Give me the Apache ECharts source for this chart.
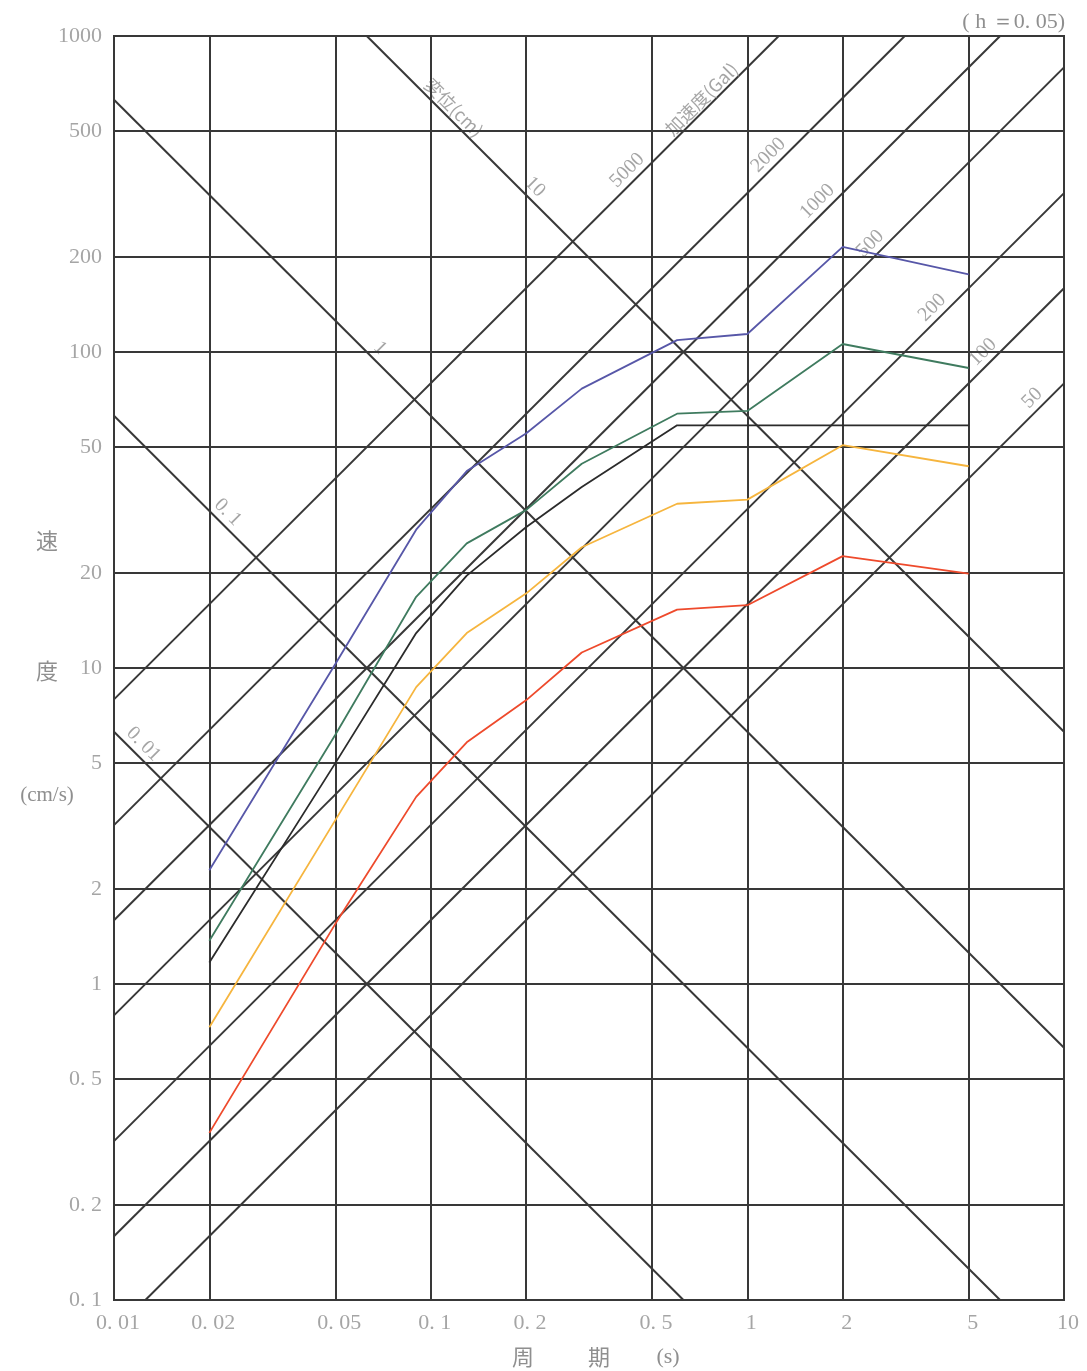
<!DOCTYPE html>
<html>
<head>
<meta charset="utf-8">
<style>
html, body { margin: 0; padding: 0; background: #fff; }
#chart { width: 1087px; height: 1371px; }
</style>
<script src="https://cdn.jsdelivr.net/npm/echarts@6/dist/echarts.min.js"></script>
</head>
<body>
<div id="chart"></div>
<script>
// periods (s) and velocity response (cm/s), h = 0.05
var periods = [0.02, 0.05, 0.09, 0.13, 0.2, 0.3, 0.6, 1, 2, 5];
var blueVel = [2.29, 10.3, 27.4, 42, 55.2, 76.6, 109, 114, 215, 176];
var greenVel = [1.37, 6.15, 16.8, 24.8, 31.6, 44.3, 63.8, 65.1, 106, 89];
var blackVel = [1.17, 5.0, 12.9, 19.6, 27.9, 37.4, 58.6, 58.6, 58.6, 58.6];
var yellowVel = [0.73, 3.3, 8.7, 12.9, 17.2, 24.1, 33.1, 34.1, 50.7, 43.5];
var redVel = [0.338, 1.55, 3.91, 5.82, 7.9, 11.2, 15.3, 15.8, 22.6, 19.9];

// axis ticks
var xTicks = [0.01, 0.02, 0.05, 0.1, 0.2, 0.5, 1, 2, 5, 10];
var xTickLabels = ['0. 01', '0. 02', '0. 05', '0. 1', '0. 2', '0. 5', '1', '2', '5', '10'];
var yTicks = [0.1, 0.2, 0.5, 1, 2, 5, 10, 20, 50, 100, 200, 500, 1000];
var yTickLabels = ['0. 1', '0. 2', '0. 5', '1', '2', '5', '10', '20', '50', '100', '200', '500', '1000'];

// tripartite lines: displacement (cm) and acceleration (Gal)
var dispValues = [0.01, 0.1, 1, 10];
var dispLabels = ['0. 01', '0. 1', '1', '10'];
var dispLabelAt = [0.01165, 0.0215, 0.065, 0.2008];
var accValues = [50, 100, 200, 500, 1000, 2000, 5000];
var accLabels = ['50', '100', '200', '500', '1000', '2000', '5000'];
var accLabelAt = [8.44, 5.9, 4.08, 2.6, 1.77, 1.24, 0.444];

var xMin = 0.01, xMax = 10, yMin = 0.1, yMax = 1000;
var TWO_PI = 2 * Math.PI;

var chartDom = document.getElementById('chart');
var myChart = echarts.init(chartDom);
var option;

function pairs(xs, ys) {
    return xs.map(function (x, i) { return [x, ys[i]]; });
}
function dispVel(d, t) { return TWO_PI * d / t; }
function accVel(a, t) { return a * t / TWO_PI; }

var lineColor = '#383838';
var textColor = '#8f8f8f';
var numFont = '"Liberation Serif", "DejaVu Serif", serif';
var cjkFont = '"Noto Sans CJK JP", sans-serif';

var series = [];

// grid lines
series.push({
    type: 'line',
    data: [[xMin, yMin]],
    symbol: 'none',
    lineStyle: { width: 0 },
    silent: true,
    z: 1,
    markLine: {
        silent: true,
        animation: false,
        symbol: ['none', 'none'],
        label: { show: false },
        lineStyle: { color: lineColor, width: 2, type: 'solid' },
        data: xTicks.slice(1, -1).map(function (v) { return { xAxis: v }; })
            .concat(yTicks.slice(1, -1).map(function (v) { return { yAxis: v }; }))
    }
});

// displacement lines: Sv = 2*pi*D/T
dispValues.forEach(function (d) {
    var k = TWO_PI * d;
    var t0 = Math.max(xMin, k / yMax), t1 = Math.min(xMax, k / yMin);
    series.push({
        type: 'line', symbol: 'none', silent: true, z: 2,
        lineStyle: { color: lineColor, width: 2 },
        data: [[t0, dispVel(d, t0)], [t1, dispVel(d, t1)]]
    });
});

// acceleration lines: Sv = A*T/(2*pi)
accValues.forEach(function (a) {
    var t0 = Math.max(xMin, yMin * TWO_PI / a), t1 = Math.min(xMax, yMax * TWO_PI / a);
    series.push({
        type: 'line', symbol: 'none', silent: true, z: 2,
        lineStyle: { color: lineColor, width: 2 },
        data: [[t0, accVel(a, t0)], [t1, accVel(a, t1)]]
    });
});

// labels on the diagonal lines
var diagLabelData = [];
dispValues.forEach(function (d, i) {
    diagLabelData.push({ name: dispLabels[i], value: [dispLabelAt[i], dispVel(d, dispLabelAt[i])],
        label: { rotate: -45, offset: [0, -12] } });
});
diagLabelData.push({ name: '変位(cm)', value: [0.112, dispVel(10, 0.112)],
    label: { rotate: -45, offset: [0, -11], fontFamily: cjkFont, fontSize: 18 } });
accValues.forEach(function (a, i) {
    diagLabelData.push({ name: accLabels[i], value: [accLabelAt[i], accVel(a, accLabelAt[i])],
        label: { rotate: 45, offset: [0, -12] } });
});
diagLabelData.push({ name: '加速度(Gal)', value: [0.754, accVel(5000, 0.754)],
    label: { rotate: 45, offset: [0, -10], fontFamily: cjkFont, fontSize: 18 } });

series.push({
    type: 'scatter', symbolSize: 0, silent: true, clip: false, z: 3,
    data: diagLabelData,
    label: { show: true, position: 'inside', formatter: '{b}', color: textColor,
        fontSize: 20, fontFamily: numFont }
});

// axis tick labels
series.push({
    type: 'scatter', symbolSize: 0, silent: true, clip: false, z: 3,
    data: xTicks.map(function (t, i) { return { name: xTickLabels[i], value: [t, yMin] }; }),
    label: { show: true, position: 'bottom', distance: 12, offset: [4, 0], formatter: '{b}', color: textColor,
        fontSize: 22, fontFamily: numFont }
});
series.push({
    type: 'scatter', symbolSize: 0, silent: true, clip: false, z: 3,
    data: yTicks.map(function (v, i) { return { name: yTickLabels[i], value: [xMin, v] }; }),
    label: { show: true, position: 'left', distance: 12, formatter: '{b}', color: textColor,
        fontSize: 22, fontFamily: numFont }
});

// response curves
var curves = [
    { values: blueVel, color: '#5757a8' },
    { values: greenVel, color: '#3f7b5f' },
    { values: blackVel, color: '#2b2b2b' },
    { values: yellowVel, color: '#f6b53e' },
    { values: redVel, color: '#ee4a2c' }
];
curves.forEach(function (c) {
    series.push({
        type: 'line', symbol: 'none', silent: true, z: 5,
        lineStyle: { color: c.color, width: 1.8 },
        data: pairs(periods, c.values)
    });
});

option = {
    animation: false,
    backgroundColor: '#fff',
    grid: {
        left: 114, top: 36, width: 950, height: 1264,
        show: true, borderColor: lineColor, borderWidth: 2, backgroundColor: 'transparent'
    },
    xAxis: {
        type: 'log', logBase: 10, min: xMin, max: xMax,
        axisLine: { show: false }, axisTick: { show: false },
        axisLabel: { show: false }, splitLine: { show: false }
    },
    yAxis: {
        type: 'log', logBase: 10, min: yMin, max: yMax,
        axisLine: { show: false }, axisTick: { show: false },
        axisLabel: { show: false }, splitLine: { show: false }
    },
    graphic: [
        { type: 'text', x: 47, y: 541, style: { text: '速', font: '22px ' + cjkFont, fill: textColor, textAlign: 'center', textVerticalAlign: 'middle' } },
        { type: 'text', x: 47, y: 671, style: { text: '度', font: '22px ' + cjkFont, fill: textColor, textAlign: 'center', textVerticalAlign: 'middle' } },
        { type: 'text', x: 47, y: 795, style: { text: '(cm/s)', font: '21px ' + numFont, fill: textColor, textAlign: 'center', textVerticalAlign: 'middle' } },
        { type: 'text', x: 523, y: 1357, style: { text: '周', font: '22px ' + cjkFont, fill: textColor, textAlign: 'center', textVerticalAlign: 'middle' } },
        { type: 'text', x: 599, y: 1357, style: { text: '期', font: '22px ' + cjkFont, fill: textColor, textAlign: 'center', textVerticalAlign: 'middle' } },
        { type: 'text', x: 668, y: 1357, style: { text: '(s)', font: '22px ' + numFont, fill: textColor, textAlign: 'center', textVerticalAlign: 'middle' } },
        { type: 'text', x: 1065, y: 22, style: { text: '( h ＝0. 05)', font: '22px ' + numFont, fill: textColor, textAlign: 'right', textVerticalAlign: 'middle' } }
    ],
    series: series
};

option && myChart.setOption(option);
window.addEventListener('resize', myChart.resize);
</script>
</body>
</html>
